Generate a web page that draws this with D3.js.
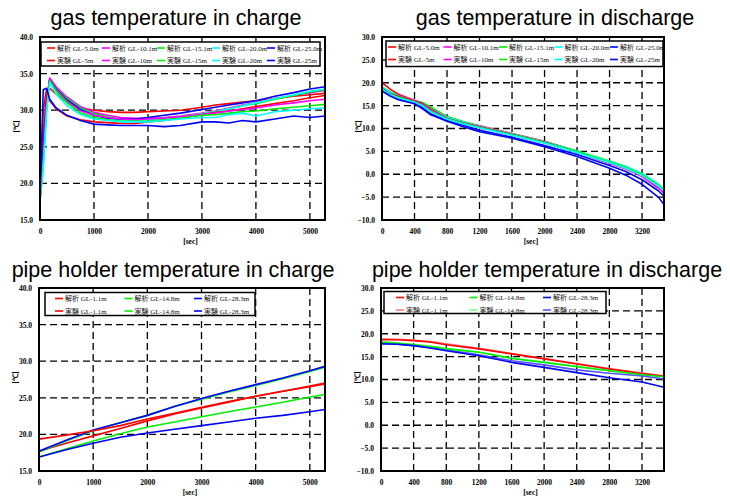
<!DOCTYPE html>
<html>
<head>
<meta charset="utf-8">
<script src="https://cdn.jsdelivr.net/npm/d3@7"></script>
<style>
  body { margin: 0; background: #fff; }
  svg { display: block; }
  .title { font-family: "Liberation Sans", Arial, sans-serif; font-size: 21.5px; fill: #000; }
  .tick-label { font-family: "Liberation Serif", "Times New Roman", serif; font-size: 7.5px; font-weight: bold; fill: #000; }
  .legend-text { font-family: "Liberation Serif", "Noto Sans CJK JP", serif; font-size: 7px; fill: #111; }
</style>
</head>
<body>
<svg id="chart" width="730" height="497"></svg>
<script>
// gas temperature in charge
const chargeGasTime = [0, 60, 120, 180, 300, 500, 750, 1000, 1250, 1500, 1750, 2000, 2300, 2600, 3000, 3250, 3500, 3750, 4000, 4350, 4700, 5000, 5280];
const chargeGasRedA = [19.5, 27.0, 32.0, 33.0, 32.2, 31.1, 30.3, 30.0, 29.8, 29.7, 29.7, 29.8, 29.9, 30.0, 30.4, 30.7, 30.9, 31.1, 31.3, 31.6, 31.9, 32.1, 32.3];
const chargeGasMagentaA = [18.0, 24.0, 31.0, 34.4, 33.2, 31.8, 30.5, 29.7, 29.3, 29.0, 28.9, 28.9, 29.0, 29.2, 29.6, 29.9, 30.3, 30.7, 31.0, 31.6, 32.0, 32.4, 32.7];
const chargeGasGreenA = [17.8, 23.5, 30.5, 34.2, 33.0, 31.6, 30.3, 29.5, 29.1, 28.8, 28.7, 28.8, 28.9, 29.1, 29.5, 29.8, 30.2, 30.6, 30.9, 31.5, 32.0, 32.5, 32.8];
const chargeGasCyanA = [17.6, 23.0, 30.0, 34.2, 32.8, 31.3, 30.1, 29.3, 28.9, 28.7, 28.6, 28.7, 28.8, 29.0, 29.5, 29.8, 30.2, 30.6, 31.0, 31.6, 32.1, 32.6, 32.9];
const chargeGasBlueA = [17.5, 24.5, 31.0, 34.2, 32.9, 31.4, 30.1, 29.3, 28.9, 28.8, 28.8, 29.0, 29.3, 29.6, 30.1, 30.4, 30.7, 31.0, 31.3, 31.9, 32.4, 32.9, 33.2];
const chargeGasRedE = [20.0, 30.0, 32.8, 31.3, 30.2, 29.2, 28.7, 28.4, 28.3, 28.2, 28.2, 28.4, 28.6, 28.9, 29.4, 29.7, 29.9, 30.2, 30.5, 30.9, 31.3, 31.7, 32.0];
const chargeGasMagentaE = [18.0, 23.0, 30.5, 34.2, 32.8, 31.2, 29.9, 29.3, 29.0, 28.8, 28.7, 28.8, 28.9, 29.1, 29.4, 29.6, 29.9, 30.1, 30.3, 30.7, 31.0, 31.3, 31.5];
const chargeGasGreenE = [17.8, 22.5, 30.0, 34.0, 32.6, 31.0, 29.6, 29.0, 28.7, 28.5, 28.5, 28.5, 28.7, 28.9, 29.3, 29.4, 29.6, 29.8, 29.9, 30.2, 30.4, 30.6, 30.8];
const chargeGasCyanE = [17.6, 22.0, 29.5, 33.8, 32.2, 30.6, 29.4, 28.8, 28.6, 28.4, 28.4, 28.4, 28.6, 28.8, 29.0, 29.0, 29.4, 29.6, 29.2, 29.8, 30.0, 30.2, 30.3];
const chargeGasBlueE = [17.5, 32.8, 33.0, 31.5, 30.3, 29.3, 28.6, 28.1, 28.0, 27.9, 27.9, 27.9, 27.75, 27.9, 28.4, 28.4, 28.25, 28.6, 28.4, 28.8, 29.2, 29.0, 29.2];

// gas temperature in discharge
const dischargeGasTime = [0, 100, 200, 400, 500, 600, 800, 1000, 1200, 1600, 2000, 2400, 2800, 3000, 3200, 3400, 3470];
const dischargeGasRedA = [20.0, 18.6, 17.5, 16.1, 15.5, 14.4, 12.4, 11.4, 10.6, 8.9, 7.2, 5.0, 2.6, 1.4, -0.2, -2.6, -3.9];
const dischargeGasMagentaA = [19.0, 18.0, 17.2, 16.1, 15.6, 14.5, 12.5, 11.4, 10.5, 8.8, 7.1, 5.0, 2.7, 1.4, -0.3, -2.6, -3.7];
const dischargeGasGreenA = [19.1, 18.0, 17.1, 16.0, 15.7, 14.7, 12.6, 11.5, 10.5, 8.8, 7.1, 5.1, 2.9, 1.7, 0.1, -2.2, -3.3];
const dischargeGasCyanA = [19.0, 17.9, 17.0, 15.9, 15.4, 14.3, 12.4, 11.4, 10.5, 8.8, 7.1, 5.0, 2.8, 1.7, 0.1, -2.2, -3.4];
const dischargeGasBlueA = [18.7, 17.5, 16.6, 15.6, 14.6, 13.2, 11.8, 10.7, 9.6, 8.1, 6.3, 4.3, 1.9, 0.6, -1.2, -3.6, -4.8];
const dischargeGasRedE = [18.5, 17.6, 17.0, 16.0, 15.4, 14.2, 12.2, 11.2, 10.4, 8.7, 7.0, 4.8, 2.4, 1.2, -0.4, -2.9, -4.1];
const dischargeGasMagentaE = [18.4, 17.4, 16.8, 15.9, 15.2, 14.0, 12.2, 11.1, 10.3, 8.6, 6.9, 4.8, 2.4, 1.2, -0.5, -3.0, -4.0];
const dischargeGasGreenE = [18.6, 17.5, 16.8, 15.8, 15.0, 13.8, 12.1, 11.1, 10.2, 8.6, 6.9, 4.9, 2.6, 1.5, -0.1, -2.4, -3.5];
const dischargeGasCyanE = [18.5, 17.4, 16.7, 15.7, 14.9, 13.6, 12.0, 11.0, 10.1, 8.5, 6.8, 4.7, 2.5, 1.3, -0.3, -2.6, -3.7];
const dischargeGasBlueE = [18.2, 17.1, 16.3, 15.4, 14.3, 13.0, 11.6, 10.4, 9.3, 7.9, 6.0, 3.9, 1.3, -0.2, -2.2, -5.0, -6.6];

// pipe holder temperature in charge
const chargePipeTime = [0, 500, 1000, 1500, 2000, 2500, 3000, 3500, 4000, 4500, 5000, 5280];
const chargePipeRedA = [17.7, 18.8, 19.8, 20.8, 21.85, 22.8, 23.6, 24.4, 25.2, 25.9, 26.6, 27.0];
const chargePipeGreenA = [17.6, 19.1, 20.5, 21.6, 22.6, 23.8, 24.8, 25.8, 26.7, 27.6, 28.6, 29.2];
const chargePipeBlueA = [17.7, 19.2, 20.6, 21.6, 22.6, 23.8, 24.9, 25.9, 26.8, 27.7, 28.7, 29.3];
const chargePipeRedE = [19.35, 19.9, 20.5, 21.2, 22.1, 22.9, 23.7, 24.5, 25.2, 25.9, 26.5, 26.9];
const chargePipeGreenE = [16.9, 18.0, 19.1, 20.1, 21.0, 21.7, 22.4, 23.1, 23.75, 24.4, 25.1, 25.45];
const chargePipeBlueE = [16.9, 17.9, 18.8, 19.6, 20.2, 20.7, 21.2, 21.7, 22.2, 22.6, 23.1, 23.4];

// pipe holder temperature in discharge
const dischargePipeTime = [0, 200, 400, 600, 800, 1200, 1600, 2000, 2400, 2800, 3200, 3470];
const dischargePipeRedA = [18.7, 18.7, 18.5, 18.2, 17.6, 16.7, 15.6, 14.5, 13.4, 12.3, 11.3, 10.7];
const dischargePipeGreenA = [18.15, 17.9, 17.6, 17.2, 16.7, 15.95, 14.6, 13.75, 12.8, 11.9, 11.05, 10.6];
const dischargePipeBlueA = [17.8, 17.7, 17.4, 16.9, 16.3, 15.2, 13.75, 12.65, 11.5, 10.4, 9.45, 8.3];
const dischargePipeRedE = [18.9, 18.8, 18.6, 18.3, 17.8, 16.8, 15.7, 14.6, 13.5, 12.4, 11.4, 10.8];
const dischargePipeGreenE = [18.3, 18.0, 17.7, 17.3, 16.8, 16.0, 14.7, 13.8, 12.9, 12.0, 11.1, 10.6];
const dischargePipeBlueE = [17.8, 17.7, 17.4, 17.0, 16.5, 15.4, 14.1, 13.2, 12.1, 11.35, 10.8, 10.1];

const gasLabelsA = ["解析 GL-5.0m", "解析 GL-10.1m", "解析 GL-15.1m", "解析 GL-20.0m", "解析 GL-25.0m"];
const gasLabelsE = ["実験 GL-5m", "実験 GL-10m", "実験 GL-15m", "実験 GL-20m", "実験 GL-25m"];
const pipeLabelsA = ["解析 GL-1.1m", "解析 GL-14.8m", "解析 GL-28.3m"];
const pipeLabelsE = ["実験 GL-1.1m", "実験 GL-14.8m", "実験 GL-28.3m"];

const chargeTicksX = [0, 1000, 2000, 3000, 4000, 5000];
const dischargeTicksX = [0, 400, 800, 1200, 1600, 2000, 2400, 2800, 3200];
const chargeTicksY = [15, 20, 25, 30, 35, 40];
const dischargeTicksY = [-10, -5, 0, 5, 10, 15, 20, 25, 30];

const gasColors = ["#ff0000", "#ff00ff", "#00ee00", "#00ffff", "#0000ff"];
const pipeColorsA = ["#ff0000", "#00ee00", "#0000ff"];
const pipeColorsE = ["#ff0000", "#00ee00", "#0000ff"];
const pipeColorsE2 = ["#ff8080", "#80ff80", "#5555ff"];

const svg = d3.select("#chart");
svg.append("rect").attr("width", 730).attr("height", 497).attr("fill", "#fff");

function drawPanel(p) {
	const x = d3.scaleLinear().domain(p.xDomain).range([p.left, p.right]);
	const y = d3.scaleLinear().domain(p.yDomain).range([p.bottom, p.top]);
	const g = svg.append("g");

	g.append("text").attr("class", "title")
		.attr("x", p.titleX).attr("y", p.titleY)
		.attr("text-anchor", "middle").text(p.title);

	// dashed grid
	g.selectAll(".gx").data(p.ticksX.filter(d => d > p.xDomain[0] && d < p.xDomain[1]))
		.enter().append("line")
		.attr("x1", d => x(d)).attr("x2", d => x(d))
		.attr("y1", p.top).attr("y2", p.bottom)
		.attr("stroke", "#000").attr("stroke-width", 1.3).attr("stroke-dasharray", "7,4");
	g.selectAll(".gy").data(p.ticksY.filter(d => d > p.yDomain[0] && d < p.yDomain[1]))
		.enter().append("line")
		.attr("x1", p.left).attr("x2", p.right)
		.attr("y1", d => y(d)).attr("y2", d => y(d))
		.attr("stroke", "#000").attr("stroke-width", 1.3).attr("stroke-dasharray", "7,4");

	const clipId = "clip" + p.id;
	svg.append("clipPath").attr("id", clipId).append("rect")
		.attr("x", p.left).attr("y", p.top)
		.attr("width", p.right - p.left).attr("height", p.bottom - p.top);

	const line = d3.line().x(d => x(d[0])).y(d => y(d[1]));
	const lines = g.append("g").attr("clip-path", `url(#${clipId})`);
	p.series.forEach(s => {
		lines.append("path")
			.datum(p.time.map((t, i) => [t, s.values[i]]))
			.attr("d", line)
			.attr("fill", "none")
			.attr("stroke", s.color)
			.attr("stroke-width", 1.6)
			.attr("stroke-linejoin", "round");
	});

	// frame
	g.append("rect")
		.attr("x", p.left).attr("y", p.top)
		.attr("width", p.right - p.left).attr("height", p.bottom - p.top)
		.attr("fill", "none").attr("stroke", "#000").attr("stroke-width", 2);

	const xAxis = d3.axisBottom(x).tickValues(p.ticksX).tickSize(0).tickPadding(9).tickFormat(d3.format("d"));
	const yAxis = d3.axisLeft(y).tickValues(p.ticksY).tickSize(0).tickPadding(7).tickFormat(d3.format(".1f"));
	const ax = g.append("g").attr("transform", `translate(0,${p.bottom})`).call(xAxis);
	const ay = g.append("g").attr("transform", `translate(${p.left},0)`).call(yAxis);
	[ax, ay].forEach(a => {
		a.select(".domain").remove();
		a.selectAll("text").attr("class", "tick-label").attr("font-family", null).attr("font-size", null).attr("fill", null);
	});

	g.append("text").attr("class", "tick-label")
		.attr("x", (p.left + p.right) / 2 + 8).attr("y", p.bottom + 24)
		.attr("text-anchor", "middle").text("[sec]");
	g.append("text").attr("class", "tick-label")
		.attr("transform", `translate(${p.left - 21},${(p.top + p.bottom) / 2 - 2}) rotate(-90)`)
		.attr("text-anchor", "middle").text("[℃]");

	// legend
	const lg = p.legend;
	g.append("rect")
		.attr("x", lg.x).attr("y", lg.y).attr("width", lg.w).attr("height", lg.h)
		.attr("fill", "#fff").attr("stroke", "#000").attr("stroke-width", 1.5);
	lg.items.forEach((it, i) => {
		const col = i % lg.cols, row = Math.floor(i / lg.cols);
		const lx = lg.x + lg.pad + col * lg.colW;
		const ly = lg.y + 6 + row * 12.5;
		g.append("line").attr("x1", lx).attr("x2", lx + 8).attr("y1", ly).attr("y2", ly)
			.attr("stroke", it.color).attr("stroke-width", 1.6);
		g.append("text").attr("class", "legend-text")
			.attr("x", lx + 10).attr("y", ly + 2.5).text(it.label);
	});
}

function gasSeries(a, e) {
	return a.map((v, i) => ({ values: v, color: gasColors[i] }))
		.concat(e.map((v, i) => ({ values: v, color: gasColors[i] })));
}
function gasLegend() {
	return gasLabelsA.map((l, i) => ({ label: l, color: gasColors[i] }))
		.concat(gasLabelsE.map((l, i) => ({ label: l, color: gasColors[i] })));
}

drawPanel({
	id: 1, title: "gas temperature in charge", titleX: 176, titleY: 25,
	left: 40, right: 325, top: 37, bottom: 220,
	xDomain: [0, 5280], yDomain: [15, 40], ticksX: chargeTicksX, ticksY: chargeTicksY,
	time: chargeGasTime,
	series: gasSeries(
		[chargeGasRedA, chargeGasMagentaA, chargeGasGreenA, chargeGasCyanA, chargeGasBlueA],
		[chargeGasRedE, chargeGasMagentaE, chargeGasGreenE, chargeGasCyanE, chargeGasBlueE]),
	legend: { x: 41, y: 42, w: 279, h: 24, pad: 6, cols: 5, colW: 55, items: gasLegend() }
});

drawPanel({
	id: 2, title: "gas temperature in discharge", titleX: 555, titleY: 25,
	left: 382, right: 664, top: 37, bottom: 220,
	xDomain: [0, 3470], yDomain: [-10, 30], ticksX: dischargeTicksX, ticksY: dischargeTicksY,
	time: dischargeGasTime,
	series: gasSeries(
		[dischargeGasRedA, dischargeGasMagentaA, dischargeGasGreenA, dischargeGasCyanA, dischargeGasBlueA],
		[dischargeGasRedE, dischargeGasMagentaE, dischargeGasGreenE, dischargeGasCyanE, dischargeGasBlueE]),
	legend: { x: 386, y: 41, w: 277, h: 25.5, pad: 2, cols: 5, colW: 55.5, items: gasLegend() }
});

drawPanel({
	id: 3, title: "pipe holder temperature in charge", titleX: 173, titleY: 277,
	left: 39, right: 325, top: 288, bottom: 471,
	xDomain: [0, 5280], yDomain: [15, 40], ticksX: chargeTicksX, ticksY: chargeTicksY,
	time: chargePipeTime,
	series: [chargePipeRedA, chargePipeGreenA, chargePipeBlueA].map((v, i) => ({ values: v, color: pipeColorsA[i] }))
		.concat([chargePipeRedE, chargePipeGreenE, chargePipeBlueE].map((v, i) => ({ values: v, color: pipeColorsE[i] }))),
	legend: {
		x: 45, y: 292.5, w: 210, h: 23, pad: 10, cols: 3, colW: 69.5,
		items: pipeLabelsA.map((l, i) => ({ label: l, color: pipeColorsA[i] }))
			.concat(pipeLabelsE.map((l, i) => ({ label: l, color: pipeColorsE[i] })))
	}
});

drawPanel({
	id: 4, title: "pipe holder temperature in discharge", titleX: 547, titleY: 277,
	left: 381, right: 664, top: 288, bottom: 471,
	xDomain: [0, 3470], yDomain: [-10, 30], ticksX: dischargeTicksX, ticksY: dischargeTicksY,
	time: dischargePipeTime,
	series: [dischargePipeRedE, dischargePipeGreenE, dischargePipeBlueE].map((v, i) => ({ values: v, color: pipeColorsE2[i] }))
		.concat([dischargePipeRedA, dischargePipeGreenA, dischargePipeBlueA].map((v, i) => ({ values: v, color: pipeColorsA[i] }))),
	legend: {
		x: 384, y: 291.5, w: 222, h: 22, pad: 12, cols: 3, colW: 73.5,
		items: pipeLabelsA.map((l, i) => ({ label: l, color: pipeColorsA[i] }))
			.concat(pipeLabelsE.map((l, i) => ({ label: l, color: pipeColorsE2[i] })))
	}
});
</script>
</body>
</html>
